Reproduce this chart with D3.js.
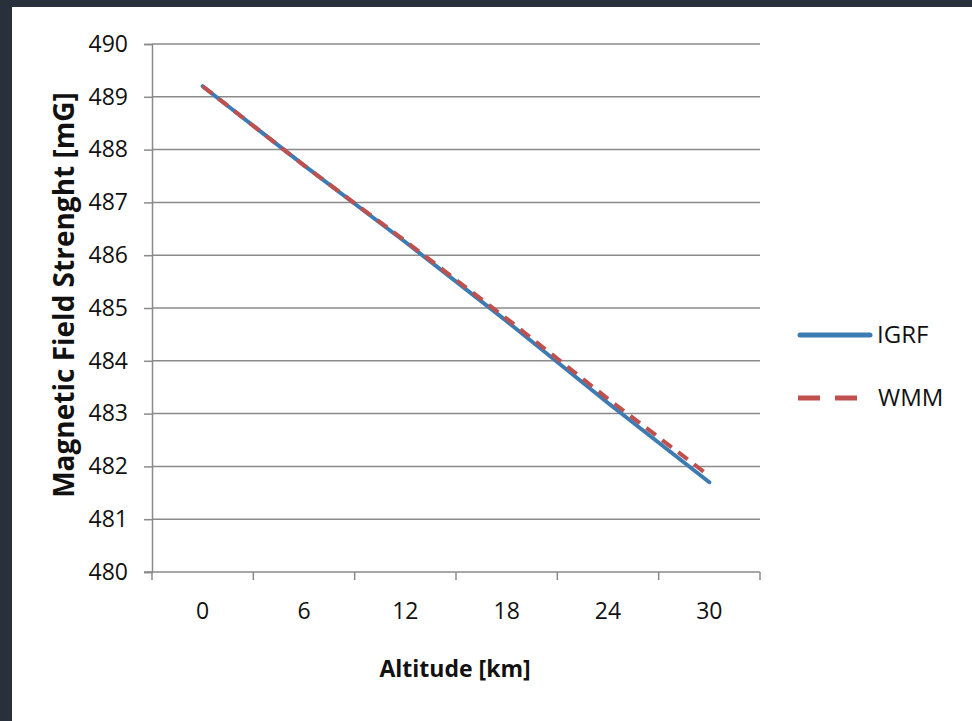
<!DOCTYPE html>
<html><head><meta charset="utf-8">
<script src="https://cdn.jsdelivr.net/npm/d3@7/dist/d3.min.js"></script>
<style>
html,body{margin:0;padding:0;background:#27303b;}
svg{display:block;}
text{font-family:"Open Sans",sans-serif;fill:#111;}
</style></head>
<body>
<svg id="chart" width="972" height="721"></svg>
<script>
const altitudes = ["0","6","12","18","24","30"];
const igrf = [489.2, 487.7, 486.25, 484.75, 483.2, 481.7];
const wmm  = [489.2, 487.7, 486.27, 484.8, 483.28, 481.82];
const yTicks = [480,481,482,483,484,485,486,487,488,489,490];
const seriesNames = ["IGRF","WMM"];
const seriesColors = ["#3d7cb3","#c0504d"];

(function(){
const svg = d3.select("#chart");
svg.append("rect").attr("x",0).attr("y",0).attr("width",972).attr("height",721).attr("fill","#27303b");
svg.append("rect").attr("x",12).attr("y",7).attr("width",960).attr("height",714).attr("fill","#ffffff");

const pL=152,pR=760,pT=44,pB=572;
const x = d3.scaleBand().domain(altitudes).range([pL,pR]).padding(0);
const y = d3.scaleLinear().domain([480,490]).range([pB,pT]);
const cx = d => x(d)+x.bandwidth()/2;
const font = '"Open Sans",sans-serif';

svg.append("g").selectAll("line").data(yTicks.filter(t=>t>480)).join("line")
  .attr("x1",pL).attr("x2",pR).attr("y1",d=>y(d)).attr("y2",d=>y(d))
  .attr("stroke","#8a8a8a").attr("stroke-width",1.5);

const yAxis = svg.append("g").attr("transform",`translate(${pL},0)`)
  .call(d3.axisLeft(y).tickValues(yTicks).tickFormat(d3.format("d")).tickSize(8).tickPadding(16));
yAxis.select(".domain").attr("stroke","#8a8a8a").attr("stroke-width",1.5);
yAxis.selectAll(".tick line").attr("stroke","#8a8a8a").attr("stroke-width",1.5);
yAxis.selectAll("text").attr("font-size",23).attr("fill","#111").style("font-family",font);

const xAxis = svg.append("g").attr("transform",`translate(0,${pB})`)
  .call(d3.axisBottom(x).tickSize(0).tickPadding(31));
xAxis.select(".domain").remove();
svg.append("line").attr("x1",pL-8).attr("x2",pR).attr("y1",pB).attr("y2",pB)
  .attr("stroke","#8a8a8a").attr("stroke-width",1.5);
svg.append("g").selectAll("line").data(altitudes.concat(["end"])).join("line")
  .attr("x1",(d,i)=>pL+i*x.bandwidth()).attr("x2",(d,i)=>pL+i*x.bandwidth())
  .attr("y1",pB).attr("y2",pB+8).attr("stroke","#8a8a8a").attr("stroke-width",1.5);
xAxis.selectAll("text").attr("font-size",23).attr("fill","#111").style("font-family",font);

const line = d3.line().x((d,i)=>cx(altitudes[i])).y(d=>y(d));
svg.append("path").datum(igrf).attr("d",line).attr("fill","none")
  .attr("stroke",seriesColors[0]).attr("stroke-width",4).attr("stroke-linecap","round");
svg.append("path").datum(wmm).attr("d",line).attr("fill","none")
  .attr("stroke",seriesColors[1]).attr("stroke-width",4).attr("stroke-dasharray","12,8");

svg.append("text").attr("transform","translate(74,295) rotate(-90)")
  .attr("text-anchor","middle").attr("font-size",28).attr("font-weight","bold")
  .style("font-family",font)
  .text("Magnetic Field Strenght [mG]");
svg.append("text").attr("x",455).attr("y",677).attr("text-anchor","middle")
  .attr("font-size",23).attr("font-weight","bold").style("font-family",font)
  .text("Altitude [km]");

const lg = svg.append("g");
lg.append("line").attr("x1",800).attr("x2",870).attr("y1",335).attr("y2",335)
  .attr("stroke",seriesColors[0]).attr("stroke-width",5).attr("stroke-linecap","round");
lg.append("text").attr("x",877).attr("y",343).attr("font-size",24).text(seriesNames[0]);
lg.append("line").attr("x1",798).attr("x2",858).attr("y1",398).attr("y2",398)
  .attr("stroke",seriesColors[1]).attr("stroke-width",5).attr("stroke-dasharray","22,15");
lg.append("text").attr("x",878).attr("y",406).attr("font-size",24).text(seriesNames[1]);
})();
</script>
</body></html>
